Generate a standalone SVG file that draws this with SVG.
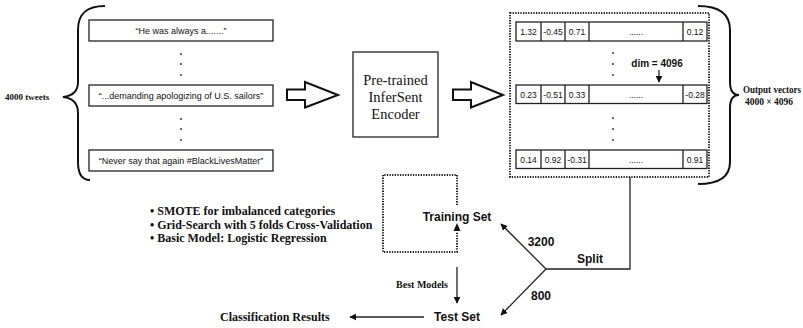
<svg xmlns="http://www.w3.org/2000/svg" width="803" height="328" viewBox="0 0 803 328">
<defs>
<marker id="ah" viewBox="0 0 10 10" refX="9" refY="5" markerWidth="7" markerHeight="7" markerUnits="userSpaceOnUse" orient="auto">
<path d="M0,0 L10,5 L0,10 z" fill="#111"/>
</marker>
</defs>
<style>
.box{fill:#fff;stroke:#222;stroke-width:1.3}
.tw{font-family:"Liberation Sans",Arial,sans-serif;font-size:9px;fill:#111;text-anchor:middle}
.cell{font-family:"Liberation Sans",Arial,sans-serif;font-size:8.5px;fill:#111;text-anchor:middle}
.dot{fill:#222}
.brace{fill:none;stroke:#111;stroke-width:2}
.hollow{fill:#fff;stroke:#111;stroke-width:2;stroke-linejoin:miter}
.dotted{fill:none;stroke:#222;stroke-width:2;stroke-dasharray:1.3 1.3}
.serif{font-family:"Liberation Serif","Times New Roman",serif;fill:#111}
.sb{font-family:"Liberation Serif","Times New Roman",serif;font-weight:bold;fill:#111}
.sans{font-family:"Liberation Sans",Arial,sans-serif;font-weight:bold;fill:#111;text-anchor:middle}
.line{fill:none;stroke:#222;stroke-width:1.3}
</style>

<g id="tweets-brace">
<path class="brace" d="M105,6 C86,6 78,14 78,30 L78,82 C78,92 72,96 63,97 C72,98 78,103 78,113 L78,162 C78,174 82,180 90,180"/>
<text class="sb" x="5" y="100" font-size="9">4000 tweets</text>
</g>

<g id="tweet1"><rect class="box" x="89" y="20" width="184" height="21"/><text class="tw" x="181" y="34">“He was always a.......”</text></g>
<g id="tweet2"><rect class="box" x="89" y="85" width="184" height="21"/><text class="tw" x="181" y="99">“...demanding apologizing of U.S. sailors”</text></g>
<g id="tweet3"><rect class="box" x="89" y="150" width="184" height="21"/><text class="tw" x="181" y="164">“Never say that again #BlackLivesMatter”</text></g>
<g id="tweet-dots">
<circle class="dot" cx="181" cy="54" r="0.9"/><circle class="dot" cx="181" cy="64" r="0.9"/><circle class="dot" cx="181" cy="75" r="0.9"/>
<circle class="dot" cx="181" cy="119" r="0.9"/><circle class="dot" cx="181" cy="129" r="0.9"/><circle class="dot" cx="181" cy="140" r="0.9"/>
</g>

<g id="arrow1"><path class="hollow" d="M287,89.5 L305,89.5 L305,82 L338,95 L305,107.5 L305,100 L287,100 Z"/></g>

<g id="encoder">
<rect class="box" x="353" y="52" width="85" height="85" stroke-width="1.8"/>
<text class="serif" x="395.5" y="85" font-size="14.5" text-anchor="middle">Pre-trained</text>
<text class="serif" x="395.5" y="102" font-size="14.5" text-anchor="middle">InferSent</text>
<text class="serif" x="395.5" y="119" font-size="14.5" text-anchor="middle">Encoder</text>
</g>

<g id="arrow2"><path class="hollow" d="M453,89.5 L471,89.5 L471,82 L503,95 L471,107.5 L471,100 L453,100 Z"/></g>

<g id="vectors">
<rect class="dotted" x="510" y="13" width="199" height="164"/>
<g id="row1">
<rect class="box" x="516" y="22" width="191" height="19"/>
<path class="line" d="M541,22V41M565,22V41M589,22V41M683,22V41"/>
<text class="cell" x="528.5" y="34.5">1.32</text><text class="cell" x="553" y="34.5">-0.45</text><text class="cell" x="577" y="34.5">0.71</text><text class="cell" x="636" y="34.5">......</text><text class="cell" x="695" y="34.5">0.12</text>
</g>
<g id="row2">
<rect class="box" x="516" y="85" width="191" height="18.5"/>
<path class="line" d="M541,85V103.5M565,85V103.5M589,85V103.5M683,85V103.5"/>
<text class="cell" x="528.5" y="97.5">0.23</text><text class="cell" x="553" y="97.5">-0.51</text><text class="cell" x="577" y="97.5">0.33</text><text class="cell" x="636" y="97.5">......</text><text class="cell" x="695" y="97.5">-0.28</text>
</g>
<g id="row3">
<rect class="box" x="516" y="150" width="191" height="18.5"/>
<path class="line" d="M541,150V168.5M565,150V168.5M589,150V168.5M683,150V168.5"/>
<text class="cell" x="528.5" y="162.5">0.14</text><text class="cell" x="553" y="162.5">0.92</text><text class="cell" x="577" y="162.5">-0.31</text><text class="cell" x="636" y="162.5">......</text><text class="cell" x="695" y="162.5">0.91</text>
</g>
<circle class="dot" cx="613" cy="53" r="0.9"/><circle class="dot" cx="613" cy="64" r="0.9"/><circle class="dot" cx="613" cy="75" r="0.9"/>
<circle class="dot" cx="613" cy="118" r="0.9"/><circle class="dot" cx="613" cy="129" r="0.9"/><circle class="dot" cx="613" cy="140" r="0.9"/>
<text class="sans" x="657" y="67" font-size="10">dim = 4096</text>
<line class="line" x1="659" y1="70" x2="659" y2="82" marker-end="url(#ah)"/>
</g>

<g id="output-brace">
<path class="brace" d="M698,6 C720,6 730,14 730,30 L730,82 C730,90 733,95 739,95 C733,95 730,100 730,108 L730,162 C730,176 720,184 698,184"/>
<text class="sb" x="743" y="93" font-size="9.5" textLength="58" lengthAdjust="spacingAndGlyphs">Output vectors</text>
<text class="sb" x="769" y="105" font-size="9.5" text-anchor="middle">4000 × 4096</text>
</g>

<g id="notes">
<text class="sb" font-size="12"><tspan x="150" y="215">• SMOTE for imbalanced categories</tspan><tspan x="150" y="228.5">• Grid-Search with 5 folds Cross-Validation</tspan><tspan x="150" y="242">• Basic Model: Logistic Regression</tspan></text>
</g>

<g id="training-set">
<path class="dotted" d="M457,205 V175 H383 V252 H457 V232"/>
<path d="M457,223 L453.5,231 L460.5,231 Z" fill="#111"/>
<text class="sans" x="457" y="221" font-size="12">Training Set</text>
</g>

<g id="test-set"><text class="sans" x="457" y="321" font-size="12">Test Set</text></g>
<g id="results"><text class="sb" x="220" y="321" font-size="12">Classification Results</text></g>

<g id="connectors">
<path class="line" d="M630,177 V269 H546"/>
<line class="line" x1="546" y1="269" x2="501" y2="224" marker-end="url(#ah)"/>
<line class="line" x1="546" y1="269" x2="501" y2="315" marker-end="url(#ah)"/>
<line class="line" x1="457" y1="267" x2="457" y2="303" marker-end="url(#ah)"/>
<line class="line" x1="424" y1="317" x2="350" y2="317" marker-end="url(#ah)"/>
<text class="sans" x="541" y="246" font-size="12">3200</text>
<text class="sans" x="541" y="300" font-size="12">800</text>
<text class="sans" x="590" y="263" font-size="12">Split</text>
<text class="sb" x="448" y="288" font-size="10" text-anchor="end">Best Models</text>
</g>
</svg>
